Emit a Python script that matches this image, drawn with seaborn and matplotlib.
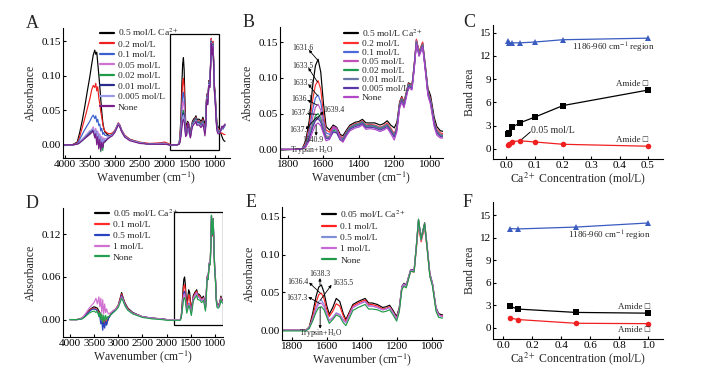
import numpy as np
import pandas as pd
import matplotlib
matplotlib.use("Agg")
import matplotlib.pyplot as plt
from matplotlib.lines import Line2D
from matplotlib.patches import Rectangle
import seaborn as sns

# wavenumber grid (cm-1), shared by all spectra
wavenumber = [4000, 3850, 3750, 3700, 3650, 3600, 3550, 3500, 3460, 3430,
              3400, 3380, 3360, 3340, 3320, 3300, 3280, 3260, 3240, 3220,
              3200, 3150, 3100, 3050, 3000, 2960, 2930, 2900, 2870, 2850,
              2800, 2700, 2500, 2300, 2100, 2000, 1900, 1850,
              1760, 1720, 1700, 1680, 1660, 1645, 1630, 1615, 1600, 1585,
              1565, 1545, 1525, 1505, 1490, 1470, 1450, 1420, 1400, 1380,
              1360, 1340, 1310, 1280, 1260, 1240, 1220, 1200, 1185, 1170,
              1158, 1145, 1120, 1100, 1088, 1075, 1060, 1040, 1025, 1010,
              995, 975, 960, 940, 920, 905, 880, 860, 840, 820, 800]

# ---- panel A / B spectra ----
a_05 = [0.000, 0.000, 0.004, 0.018, 0.035, 0.055, 0.077, 0.098, 0.117, 0.130,
        0.137, 0.131, 0.134, 0.118, 0.102, 0.085, 0.066, 0.048, 0.033, 0.024,
        0.019, 0.015, 0.013, 0.015, 0.019, 0.026, 0.031, 0.028, 0.022, 0.019,
        0.013, 0.008, 0.003, 0.001, 0.001, 0.001, 0.000, -0.001,
        0.000, 0.001, 0.012, 0.040, 0.090, 0.117, 0.126, 0.108, 0.065, 0.032,
        0.027, 0.034, 0.031, 0.021, 0.019, 0.027, 0.034, 0.038, 0.039, 0.042,
        0.037, 0.037, 0.037, 0.034, 0.036, 0.040, 0.034, 0.030, 0.038, 0.066,
        0.074, 0.066, 0.093, 0.090, 0.117, 0.153, 0.136, 0.149, 0.118, 0.085,
        0.075, 0.045, 0.032, 0.026, 0.025, 0.022, 0.016, 0.012, 0.008, 0.006, 0.005]
a_02 = [0.000, 0.000, 0.003, 0.012, 0.025, 0.038, 0.052, 0.066, 0.080, 0.086,
        0.083, 0.089, 0.078, 0.084, 0.068, 0.060, 0.048, 0.040, 0.030, 0.024,
        0.020, 0.017, 0.016, 0.017, 0.021, 0.027, 0.032, 0.029, 0.023, 0.020,
        0.014, 0.008, 0.004, 0.002, 0.003, 0.004, 0.001, 0.000,
        0.000, 0.001, 0.009, 0.032, 0.070, 0.090, 0.096, 0.084, 0.050, 0.027,
        0.024, 0.032, 0.029, 0.019, 0.016, 0.025, 0.032, 0.036, 0.037, 0.040,
        0.034, 0.035, 0.034, 0.031, 0.033, 0.037, 0.030, 0.022, 0.033, 0.065,
        0.073, 0.065, 0.092, 0.089, 0.117, 0.154, 0.136, 0.150, 0.117, 0.082,
        0.070, 0.040, 0.028, 0.023, 0.022, 0.019, 0.017, 0.017, 0.016, 0.015, 0.015]
a_01 = [0.000, 0.000, 0.002, 0.008, 0.015, 0.022, 0.028, 0.034, 0.040, 0.043,
        0.038, 0.042, 0.033, 0.037, 0.028, 0.030, 0.020, 0.024, 0.015, 0.018,
        0.014, 0.013, 0.013, 0.015, 0.020, 0.026, 0.031, 0.028, 0.022, 0.019,
        0.013, 0.007, 0.003, 0.001, 0.002, 0.002, 0.000, 0.000,
        0.000, 0.001, 0.007, 0.027, 0.056, 0.072, 0.076, 0.066, 0.041, 0.023,
        0.021, 0.029, 0.027, 0.017, 0.015, 0.024, 0.031, 0.035, 0.036, 0.039,
        0.033, 0.034, 0.033, 0.030, 0.032, 0.035, 0.028, 0.020, 0.031, 0.063,
        0.071, 0.063, 0.091, 0.088, 0.115, 0.151, 0.134, 0.147, 0.115, 0.080,
        0.068, 0.038, 0.026, 0.021, 0.020, 0.019, 0.021, 0.025, 0.023, 0.026, 0.028]
a_005 = [0.000, 0.000, 0.001, 0.004, 0.008, 0.012, 0.016, 0.020, 0.022, 0.026,
         0.018, 0.024, 0.012, 0.020, 0.006, 0.016, 0.004, 0.012, 0.006, 0.010,
         0.008, 0.010, 0.012, 0.014, 0.019, 0.026, 0.031, 0.028, 0.022, 0.019,
         0.012, 0.007, 0.003, 0.001, 0.002, 0.002, 0.000, 0.000,
         0.000, 0.001, 0.006, 0.022, 0.045, 0.059, 0.063, 0.055, 0.035, 0.019,
         0.018, 0.030, 0.028, 0.016, 0.013, 0.023, 0.030, 0.034, 0.035, 0.038,
         0.032, 0.033, 0.032, 0.029, 0.031, 0.034, 0.027, 0.019, 0.030, 0.062,
         0.070, 0.062, 0.090, 0.088, 0.115, 0.152, 0.134, 0.147, 0.115, 0.080,
         0.068, 0.038, 0.026, 0.021, 0.020, 0.020, 0.023, 0.027, 0.025, 0.028, 0.030]
a_002 = [0.000, 0.000, 0.001, 0.003, 0.006, 0.010, 0.013, 0.016, 0.018, 0.020,
         0.012, 0.018, 0.004, 0.014, -0.004, 0.010, -0.010, 0.006, -0.008, 0.004,
         0.004, 0.008, 0.011, 0.014, 0.019, 0.025, 0.030, 0.027, 0.021, 0.018,
         0.012, 0.007, 0.003, 0.001, 0.002, 0.002, 0.000, 0.000,
         0.000, 0.001, 0.005, 0.018, 0.036, 0.047, 0.050, 0.044, 0.029, 0.017,
         0.017, 0.027, 0.025, 0.015, 0.013, 0.023, 0.030, 0.034, 0.035, 0.038,
         0.032, 0.033, 0.032, 0.029, 0.031, 0.034, 0.027, 0.019, 0.030, 0.062,
         0.070, 0.062, 0.090, 0.087, 0.114, 0.150, 0.133, 0.146, 0.114, 0.079,
         0.067, 0.037, 0.025, 0.020, 0.019, 0.019, 0.022, 0.026, 0.024, 0.027, 0.029]
a_001 = [0.000, 0.000, 0.001, 0.004, 0.007, 0.011, 0.014, 0.018, 0.020, 0.022,
         0.015, 0.020, 0.008, 0.016, 0.002, 0.012, -0.004, 0.008, -0.002, 0.006,
         0.006, 0.009, 0.012, 0.014, 0.019, 0.025, 0.030, 0.027, 0.021, 0.018,
         0.012, 0.007, 0.003, 0.001, 0.002, 0.002, 0.000, 0.000,
         0.000, 0.001, 0.004, 0.016, 0.033, 0.043, 0.046, 0.041, 0.027, 0.016,
         0.016, 0.025, 0.024, 0.014, 0.012, 0.022, 0.029, 0.033, 0.034, 0.037,
         0.031, 0.032, 0.031, 0.028, 0.030, 0.033, 0.026, 0.018, 0.029, 0.061,
         0.069, 0.061, 0.089, 0.086, 0.113, 0.149, 0.132, 0.145, 0.113, 0.078,
         0.066, 0.036, 0.024, 0.019, 0.018, 0.018, 0.021, 0.025, 0.023, 0.026, 0.028]
a_0005 = [0.000, 0.000, 0.001, 0.004, 0.008, 0.012, 0.016, 0.020, 0.022, 0.024,
          0.016, 0.022, 0.010, 0.018, 0.004, 0.014, 0.002, 0.010, 0.000, 0.008,
          0.007, 0.010, 0.012, 0.014, 0.019, 0.025, 0.030, 0.027, 0.021, 0.018,
          0.012, 0.007, 0.003, 0.001, 0.002, 0.002, 0.000, 0.000,
          0.000, 0.001, 0.004, 0.015, 0.031, 0.040, 0.043, 0.038, 0.025, 0.015,
          0.015, 0.024, 0.023, 0.013, 0.011, 0.021, 0.028, 0.032, 0.033, 0.036,
          0.030, 0.031, 0.030, 0.027, 0.029, 0.032, 0.025, 0.017, 0.028, 0.060,
          0.068, 0.060, 0.088, 0.085, 0.112, 0.148, 0.131, 0.144, 0.112, 0.077,
          0.065, 0.035, 0.023, 0.018, 0.017, 0.018, 0.022, 0.026, 0.024, 0.027, 0.029]
a_none = [0.000, 0.000, 0.001, 0.003, 0.006, 0.009, 0.012, 0.015, 0.018, 0.020,
          0.010, 0.016, 0.000, 0.012, -0.006, 0.008, -0.008, 0.004, -0.004, 0.004,
          0.004, 0.008, 0.011, 0.013, 0.018, 0.024, 0.029, 0.026, 0.020, 0.017,
          0.011, 0.006, 0.002, 0.001, 0.001, 0.001, 0.000, 0.000,
          0.000, 0.001, 0.003, 0.012, 0.025, 0.034, 0.037, 0.033, 0.022, 0.012,
          0.014, 0.032, 0.030, 0.015, 0.010, 0.019, 0.026, 0.030, 0.031, 0.034,
          0.028, 0.029, 0.028, 0.025, 0.027, 0.030, 0.022, 0.013, 0.025, 0.057,
          0.066, 0.058, 0.086, 0.083, 0.110, 0.147, 0.130, 0.143, 0.110, 0.075,
          0.062, 0.032, 0.020, 0.016, 0.016, 0.017, 0.022, 0.027, 0.025, 0.028, 0.030]

# ---- panel D / E spectra ----
d_005 = [0.000, 0.000, 0.002, 0.005, 0.009, 0.013, 0.016, 0.018, 0.017, 0.016,
         0.012, 0.010, 0.004, 0.002, -0.006, -0.002, -0.008, -0.004, -0.006, -0.002,
         0.002, 0.008, 0.012, 0.015, 0.020, 0.030, 0.038, 0.031, 0.025, 0.022,
         0.016, 0.010, 0.004, 0.002, 0.001, 0.000, 0.000, 0.000,
         0.000, 0.000, 0.004, 0.022, 0.045, 0.057, 0.060, 0.050, 0.033, 0.021,
         0.030, 0.042, 0.038, 0.022, 0.014, 0.024, 0.034, 0.038, 0.040, 0.042,
         0.036, 0.036, 0.034, 0.030, 0.031, 0.033, 0.026, 0.018, 0.030, 0.058,
         0.062, 0.060, 0.080, 0.080, 0.110, 0.146, 0.122, 0.142, 0.110, 0.075,
         0.062, 0.030, 0.022, 0.020, 0.022, 0.024, 0.033, 0.028, 0.027, 0.026, 0.026]
d_01 = [0.000, 0.000, 0.002, 0.005, 0.009, 0.012, 0.015, 0.016, 0.015, 0.013,
        0.010, 0.008, 0.004, 0.006, -0.004, 0.002, -0.006, 0.000, -0.004, 0.000,
        0.003, 0.008, 0.012, 0.015, 0.020, 0.029, 0.036, 0.030, 0.024, 0.021,
        0.015, 0.009, 0.004, 0.002, 0.001, 0.000, 0.000, 0.000,
        0.000, 0.000, 0.003, 0.018, 0.037, 0.047, 0.049, 0.042, 0.028, 0.018,
        0.025, 0.035, 0.032, 0.019, 0.012, 0.022, 0.032, 0.036, 0.038, 0.040,
        0.034, 0.034, 0.032, 0.028, 0.029, 0.031, 0.024, 0.016, 0.028, 0.056,
        0.060, 0.058, 0.078, 0.077, 0.106, 0.138, 0.117, 0.136, 0.106, 0.072,
        0.060, 0.028, 0.020, 0.019, 0.021, 0.023, 0.031, 0.027, 0.026, 0.025, 0.025]
d_05 = [0.000, 0.000, 0.001, 0.004, 0.008, 0.011, 0.014, 0.015, 0.014, 0.012,
        0.006, 0.004, -0.006, -0.002, -0.015, -0.004, -0.012, -0.002, -0.008, -0.002,
        0.002, 0.007, 0.011, 0.014, 0.019, 0.027, 0.034, 0.029, 0.023, 0.020,
        0.014, 0.009, 0.004, 0.002, 0.001, 0.000, 0.000, 0.000,
        0.000, 0.000, 0.003, 0.015, 0.030, 0.038, 0.040, 0.034, 0.023, 0.013,
        0.017, 0.023, 0.021, 0.014, 0.010, 0.020, 0.030, 0.034, 0.036, 0.038,
        0.032, 0.032, 0.030, 0.027, 0.028, 0.030, 0.023, 0.015, 0.027, 0.056,
        0.060, 0.058, 0.079, 0.078, 0.108, 0.142, 0.119, 0.138, 0.108, 0.073,
        0.060, 0.028, 0.020, 0.018, 0.020, 0.022, 0.030, 0.026, 0.025, 0.024, 0.024]
d_1 = [0.000, 0.000, 0.002, 0.006, 0.011, 0.016, 0.020, 0.024, 0.030, 0.022,
       0.032, 0.018, 0.030, 0.010, 0.028, 0.008, 0.022, 0.010, 0.015, 0.010,
       0.008, 0.010, 0.013, 0.015, 0.019, 0.026, 0.032, 0.028, 0.022, 0.019,
       0.014, 0.009, 0.004, 0.002, 0.001, 0.000, 0.000, 0.000,
       0.000, 0.000, 0.003, 0.014, 0.028, 0.035, 0.036, 0.031, 0.021, 0.012,
       0.016, 0.022, 0.020, 0.013, 0.010, 0.020, 0.030, 0.034, 0.036, 0.038,
       0.032, 0.032, 0.030, 0.027, 0.028, 0.030, 0.023, 0.015, 0.027, 0.057,
       0.061, 0.059, 0.080, 0.079, 0.110, 0.146, 0.121, 0.141, 0.109, 0.074,
       0.061, 0.029, 0.020, 0.018, 0.020, 0.022, 0.030, 0.026, 0.025, 0.024, 0.024]
d_none = [0.000, 0.000, 0.001, 0.003, 0.006, 0.009, 0.011, 0.012, 0.010, 0.012,
          0.004, 0.010, 0.000, 0.008, -0.004, 0.006, -0.002, 0.006, 0.000, 0.004,
          0.004, 0.007, 0.010, 0.013, 0.017, 0.024, 0.030, 0.026, 0.021, 0.018,
          0.013, 0.008, 0.003, 0.001, 0.000, -0.001, -0.001, -0.001,
          -0.001, -0.001, 0.002, 0.012, 0.024, 0.030, 0.031, 0.027, 0.018, 0.009,
          0.014, 0.020, 0.018, 0.010, 0.006, 0.016, 0.026, 0.030, 0.032, 0.034,
          0.028, 0.028, 0.027, 0.024, 0.025, 0.027, 0.020, 0.012, 0.024, 0.054,
          0.058, 0.056, 0.078, 0.077, 0.108, 0.147, 0.120, 0.141, 0.107, 0.071,
          0.058, 0.025, 0.017, 0.016, 0.017, 0.019, 0.028, 0.024, 0.023, 0.022, 0.022]

labels_ab = ['0.5 mol/L Ca$^{2+}$', '0.2 mol/L', '0.1 mol/L', '0.05 mol/L',
             '0.02 mol/L', '0.01 mol/L', '0.005 mol/L', 'None']
labels_de = ['0.05 mol/L Ca$^{2+}$', '0.1 mol/L', '0.5 mol/L', '1 mol/L', 'None']
colors_a = ['#000000', '#ee2020', '#3a5fcd', '#d070d0', '#1f9a4a', '#2b2b8c', '#9a9ae6', '#7a1f8a']
colors_b = ['#000000', '#ff3030', '#4a6ad8', '#c050b8', '#1e9a50', '#6a78a8', '#5a36a8', '#b048c8']
colors_d = ['#000000', '#ff2a2a', '#2a44c0', '#d070d0', '#22a050']
colors_e = ['#000000', '#ff2020', '#8090d8', '#c868d8', '#209a48']

# ---- band areas (C, F) ----
conc_c = [0.005, 0.01, 0.02, 0.05, 0.1, 0.2, 0.5]
c_region = [13.9, 13.7, 13.7, 13.7, 13.8, 14.1, 14.3]
c_amide1 = [1.9, 2.1, 2.8, 3.4, 4.1, 5.6, 7.6]
c_amide2 = [0.5, 0.7, 0.95, 1.05, 0.9, 0.6, 0.35]
conc_f = [0.05, 0.1, 0.5, 1.0]
f_region = [13.25, 13.2, 13.45, 14.0]
f_amide1 = [2.85, 2.5, 2.05, 1.95]
f_amide2 = [1.3, 1.1, 0.6, 0.55]

sns.set_style("ticks")
plt.rcParams['font.family'] = ['Liberation Serif', 'DejaVu Serif']
plt.rcParams['mathtext.fontset'] = 'stix'
plt.rcParams['axes.linewidth'] = 0.8

W, H = 707, 372
fig = plt.figure(figsize=(W / 100, H / 100), dpi=100)


def box_px(l, r, t, b):
    # axes rectangle from pixel edges
    return [l / W, 1 - b / H, (r - l) / W, (b - t) / H]


def style(ax):
    sns.despine(ax=ax)
    ax.tick_params(direction='in', length=2.5, width=0.8, labelsize=8, pad=1.5, colors='black')
    for s in ['left', 'bottom']:
        ax.spines[s].set_color('black')


def spectra(ax, series, names, colors, leg_anchor, leg_space):
    frames = [pd.DataFrame({'wn': wavenumber, 'A': v, 'sample': n}) for n, v in zip(names, series)]
    df = pd.concat(frames, ignore_index=True)
    sns.lineplot(data=df, x='wn', y='A', hue='sample', hue_order=names, palette=colors,
                 estimator=None, sort=False, linewidth=0.85, legend=False, ax=ax)
    handles = [Line2D([0], [0], color=c, lw=1.6) for c in colors]
    ax.legend(handles, names, loc='upper left', bbox_to_anchor=leg_anchor, frameon=False,
              fontsize=6.8, handlelength=1.5, handletextpad=0.4, labelspacing=leg_space,
              borderpad=0, borderaxespad=0)
    ax.set_xlabel('Wavenumber (cm$^{-1}$)', fontsize=8.5, labelpad=0.5)
    ax.set_ylabel('Absorbance', fontsize=8.5, labelpad=3)
    style(ax)


# ---------------- A ----------------
axA = fig.add_axes(box_px(63, 230, 28, 158))
spectra(axA, [a_05, a_02, a_01, a_005, a_002, a_001, a_0005, a_none], labels_ab, colors_a,
        (0.22, 1.01), 0.2)
axA.set_xlim(4034, 700)
axA.set_ylim(-0.019, 0.169)
axA.set_xticks([4000, 3500, 3000, 2500, 2000, 1500, 1000])
axA.set_yticks([0.0, 0.05, 0.10, 0.15])
axA.yaxis.set_major_formatter(matplotlib.ticker.FormatStrFormatter('%.2f'))
axA.add_patch(Rectangle((1900, -0.008), 920 - 1900, 0.168, fill=False, ec='black', lw=0.9))

# ---------------- B ----------------
axB = fig.add_axes(box_px(280, 443, 27, 158))
spectra(axB, [a_05, a_02, a_01, a_005, a_002, a_001, a_0005, a_none], labels_ab, colors_b,
        (0.39, 0.997), 0.05)
axB.set_xlim(1845, 925)
axB.set_ylim(-0.012, 0.171)
axB.set_xticks([1800, 1600, 1400, 1200, 1000])
axB.set_yticks([0.0, 0.05, 0.10, 0.15])
axB.yaxis.set_major_formatter(matplotlib.ticker.FormatStrFormatter('%.2f'))

fs_peak = 5.5
arrow = dict(arrowstyle='-|>', color='black', lw=0.6, mutation_scale=4, shrinkA=0, shrinkB=0)
b_marks = [('1631.6', (1630, 0.124), (1682, 0.139), (1775, 0.141)),
           ('1633.5', (1633, 0.094), (1685, 0.114), (1775, 0.116)),
           ('1633.3', (1633, 0.075), (1685, 0.091), (1775, 0.093)),
           ('1636.1', (1636, 0.062), (1690, 0.069), (1783, 0.071)),
           ('1637.4', (1637, 0.049), (1692, 0.050), (1785, 0.051)),
           ('1637.7', (1638, 0.045), (1700, 0.028), (1790, 0.027))]
for txt, peak, head, pos in b_marks:
    axB.annotate('', xy=head, xytext=peak, arrowprops=arrow)
    axB.text(pos[0], pos[1], txt, fontsize=fs_peak, ha='left', va='center')
axB.annotate('', xy=(1600, 0.053), xytext=(1639, 0.042), arrowprops=arrow)
axB.text(1598, 0.055, '1639.4', fontsize=fs_peak, ha='left', va='center')
axB.annotate('', xy=(1641, 0.019), xytext=(1641, 0.034), arrowprops=arrow)
axB.text(1662, 0.0138, '1640.9', fontsize=fs_peak, ha='center', va='center')
axB.text(1665, -0.0008, 'Trypsin+H$_2$O', fontsize=fs_peak, ha='center', va='center')

# ---------------- C ----------------
axC = fig.add_axes(box_px(493, 663, 25, 159))
sns.lineplot(x=conc_c, y=c_region, color='#3a5bbf', marker='^', markersize=4.5,
             markeredgewidth=0, linewidth=0.9, ax=axC)
sns.lineplot(x=conc_c, y=c_amide1, color='black', marker='s', markersize=4,
             markeredgewidth=0, linewidth=0.9, ax=axC)
sns.lineplot(x=conc_c, y=c_amide2, color='#f02020', marker='o', markersize=4,
             markeredgewidth=0, linewidth=0.9, ax=axC)
axC.set_xlim(-0.047, 0.553)
axC.set_ylim(-1.3, 16)
axC.set_xticks([0.0, 0.1, 0.2, 0.3, 0.4, 0.5])
axC.set_yticks([0, 3, 6, 9, 12, 15])
axC.xaxis.set_major_formatter(matplotlib.ticker.FormatStrFormatter('%.1f'))
axC.set_xlabel('Ca$^{2+}$ Concentration (mol/L)', fontsize=8.5, labelpad=0.5)
axC.set_ylabel('Band area', fontsize=8.5, labelpad=3)
axC.text(0.525, 13.1, '1186-960 cm$^{-1}$ region', fontsize=6.5, ha='right', va='center')
axC.text(0.50, 8.4, 'Amide \u25a1', fontsize=6.5, ha='right', va='center')
axC.text(0.50, 1.1, 'Amide \u25a1', fontsize=6.5, ha='right', va='center')
axC.plot([0.055, 0.085], [1.25, 2.2], color='black', lw=0.7)
axC.text(0.086, 2.35, '0.05 mol/L', fontsize=7, ha='left', va='center')
style(axC)

# ---------------- D ----------------
axD = fig.add_axes(box_px(63, 223, 208, 337))
spectra(axD, [d_005, d_01, d_05, d_1, d_none], labels_de, colors_d, (0.2, 1.005), 0.22)
axD.set_xlim(4140, 837)
axD.set_ylim(-0.0245, 0.157)
axD.set_xticks([4000, 3500, 3000, 2500, 2000, 1500, 1000])
axD.set_yticks([0.0, 0.06, 0.12])
axD.yaxis.set_major_formatter(matplotlib.ticker.FormatStrFormatter('%.2f'))
axD.add_patch(Rectangle((1857, -0.008), 845 - 1857, 0.159, fill=False, ec='black', lw=0.9))

# ---------------- E ----------------
axE = fig.add_axes(box_px(282, 443, 207, 340))
spectra(axE, [d_005, d_01, d_05, d_1, d_none], labels_de, colors_e, (0.25, 0.99), 0.28)
axE.set_xlim(1855, 935)
axE.set_ylim(-0.013, 0.163)
axE.set_xticks([1800, 1600, 1400, 1200, 1000])
axE.set_yticks([0.0, 0.05, 0.10, 0.15])
axE.yaxis.set_major_formatter(matplotlib.ticker.FormatStrFormatter('%.2f'))
axE.annotate('', xy=(1638, 0.069), xytext=(1638, 0.060), arrowprops=arrow)
axE.text(1638, 0.075, '1638.3', fontsize=fs_peak, ha='center', va='center')
axE.annotate('', xy=(1700, 0.063), xytext=(1636, 0.049), arrowprops=arrow)
axE.text(1702, 0.064, '1636.4', fontsize=fs_peak, ha='right', va='center')
axE.annotate('', xy=(1572, 0.060), xytext=(1635, 0.040), arrowprops=arrow)
axE.text(1570, 0.063, '1635.5', fontsize=fs_peak, ha='left', va='center')
axE.annotate('', xy=(1705, 0.044), xytext=(1637, 0.035), arrowprops=arrow)
axE.text(1707, 0.042, '1637.3', fontsize=fs_peak, ha='right', va='center')
axE.annotate('', xy=(1637, 0.002), xytext=(1637, 0.030), arrowprops=arrow)
axE.text(1630, -0.004, 'Trypsin+H$_2$O', fontsize=fs_peak, ha='center', va='center')

# ---------------- F ----------------
axF = fig.add_axes(box_px(493, 663, 202, 339))
sns.lineplot(x=conc_f, y=f_region, color='#3a5bbf', marker='^', markersize=4.5,
             markeredgewidth=0, linewidth=0.9, ax=axF)
sns.lineplot(x=conc_f, y=f_amide1, color='black', marker='s', markersize=4,
             markeredgewidth=0, linewidth=0.9, ax=axF)
sns.lineplot(x=conc_f, y=f_amide2, color='#f02020', marker='o', markersize=4,
             markeredgewidth=0, linewidth=0.9, ax=axF)
axF.set_xlim(-0.07, 1.10)
axF.set_ylim(-1.5, 16.8)
axF.set_xticks([0.0, 0.2, 0.4, 0.6, 0.8, 1.0])
axF.set_yticks([0, 3, 6, 9, 12, 15])
axF.xaxis.set_major_formatter(matplotlib.ticker.FormatStrFormatter('%.1f'))
axF.set_xlabel('Ca$^{2+}$ Concentration (mol/L)', fontsize=8.5, labelpad=0.5)
axF.set_ylabel('Band area', fontsize=8.5, labelpad=3)
axF.text(1.02, 12.2, '1186-960 cm$^{-1}$ region', fontsize=6.5, ha='right', va='center')
axF.text(1.01, 2.8, 'Amide \u25a1', fontsize=6.5, ha='right', va='center')
axF.text(1.01, -0.3, 'Amide \u25a1', fontsize=6.5, ha='right', va='center')
style(axF)

# panel letters
for letter, x, y in [('A', 26, 15), ('B', 243, 14), ('C', 463, 14),
                     ('D', 26, 195), ('E', 246, 194), ('F', 463, 194)]:
    fig.text(x / W, 1 - y / H, letter, fontsize=13, ha='left', va='top')

fig.savefig('out.png', dpi=100, facecolor='white')
